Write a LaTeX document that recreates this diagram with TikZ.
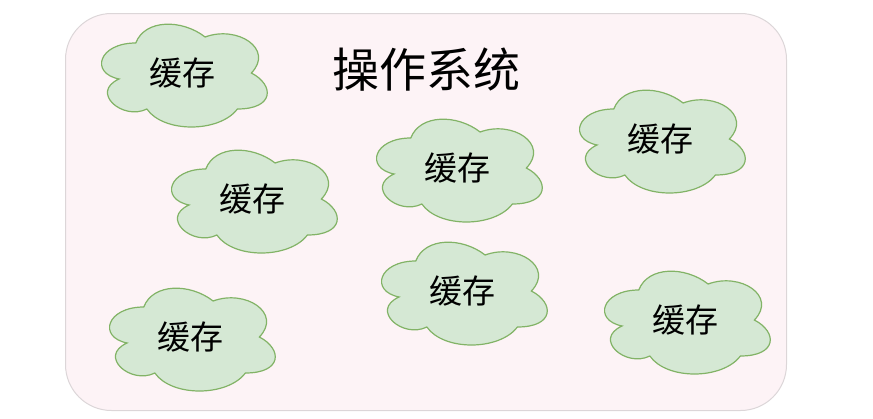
\documentclass[tikz,border=0pt]{standalone}
\usepackage{fontspec}
\newfontfamily\cjk{Noto Sans CJK SC}
\definecolor{cloudfill}{HTML}{D5E8D4}
\definecolor{cloudline}{HTML}{82B366}
\definecolor{osfill}{HTML}{FDF3F6}
\definecolor{osline}{HTML}{DCD6D8}
\tikzset{
  cloudpath/.style={fill=cloudfill, draw=cloudline, line width=1.2pt},
  cachetext/.style={font=\cjk\fontsize{33}{38}\selectfont, text=black, inner sep=0pt},
  osbox/.style={draw=osline, fill=osfill, line width=1pt, rounded corners=46pt}
}
\newcommand\cachecloud[3]{%
  \begin{scope}[shift={(#2-92.5,#3-60)}, x=185pt, y=-120pt]
    \draw[cloudpath] (0.25,0.25) .. controls (0.05,0.25) and (0,0.5) .. (0.16,0.55)
      .. controls (0,0.66) and (0.18,0.9) .. (0.31,0.8)
      .. controls (0.4,1) and (0.7,1) .. (0.8,0.8)
      .. controls (1,0.8) and (1,0.6) .. (0.875,0.5)
      .. controls (1,0.3) and (0.8,0.1) .. (0.625,0.2)
      .. controls (0.5,0.05) and (0.3,0.05) .. (0.25,0.25) -- cycle;
    \node[cachetext] (#1) at (0.5,0.5) {缓存};
  \end{scope}}
\begin{document}
\begin{tikzpicture}[x=1pt,y=-1pt]
\useasboundingbox (0,0) rectangle (873,418);
\node[osbox, minimum width=721pt, minimum height=397pt, anchor=north west, inner sep=0pt] (os) at (65,13) {};
\node[font=\cjk\fontsize{47}{54}\selectfont, inner sep=0pt] (title) at (426,70) {操作系统};
\cachecloud{c1}{182}{73}
\cachecloud{c2}{252}{199}
\cachecloud{c3}{457}{168}
\cachecloud{c4}{660}{139}
\cachecloud{c5}{190}{337}
\cachecloud{c6}{462}{291}
\cachecloud{c7}{685}{320}
\end{tikzpicture}
\end{document}
